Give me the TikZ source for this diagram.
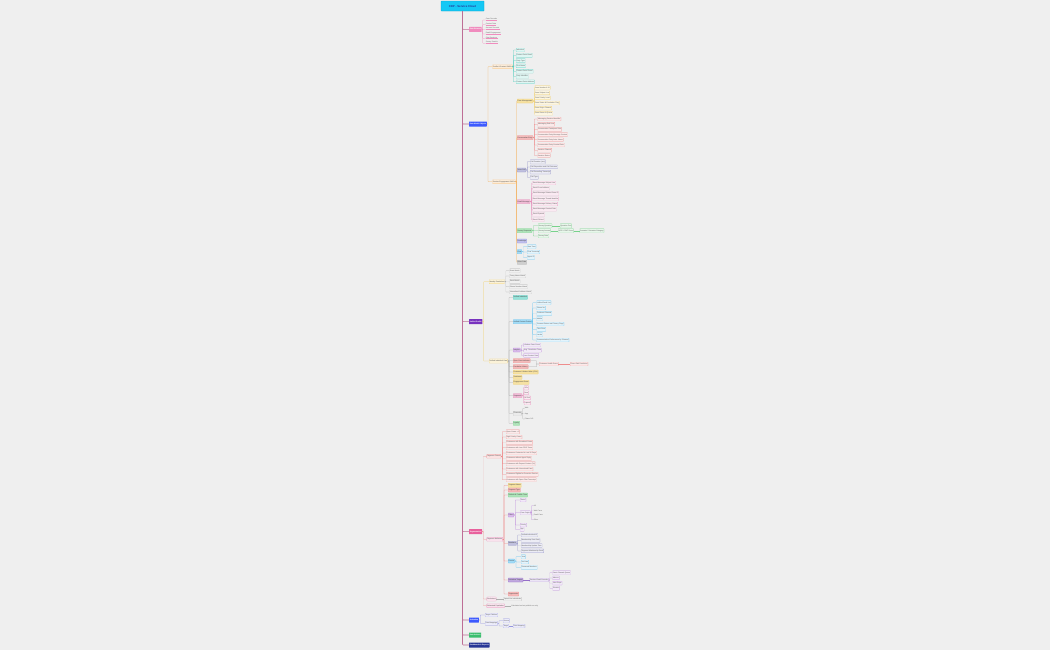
\documentclass[tikz,border=0pt]{standalone}
\usepackage{fontspec}
\setmainfont{Liberation Sans}
\usetikzlibrary{positioning}
\definecolor{bgc}    {RGB}{239,239,239}
\definecolor{rootc}  {RGB}{ 20,200,245}
\definecolor{trunkc} {RGB}{190,110,150}
\definecolor{pinkc}  {RGB}{240,140,190}
\definecolor{bluec}  {RGB}{ 61, 90,254}
\definecolor{purplec}{RGB}{120, 50,190}
\definecolor{rosec}  {RGB}{232, 96,156}
\definecolor{navyc}  {RGB}{ 40, 55,150}
\definecolor{greenc} {RGB}{ 60,190,110}
\definecolor{orangec}{RGB}{244,180,100}
\definecolor{tealc}  {RGB}{ 80,205,190}
\definecolor{yellowc}{RGB}{240,205,100}
\definecolor{redc}   {RGB}{238,140,140}
\definecolor{slatec} {RGB}{150,150,200}
\definecolor{magc}   {RGB}{230,140,185}
\definecolor{mintc}  {RGB}{120,210,140}
\definecolor{lavc}   {RGB}{150,150,225}
\definecolor{skyc}   {RGB}{100,195,240}
\definecolor{grayc}  {RGB}{175,175,175}
\definecolor{violc}  {RGB}{190,140,220}
\definecolor{plumc}  {RGB}{150,110,200}

\begin{document}
\begin{tikzpicture}[
  x=0.1cm, y=-0.1cm,
  root/.style={draw=rootc!80!black, fill=rootc, rounded corners=1pt,
    minimum width=4.3cm, minimum height=1cm,
    font=\fontsize{8}{9}\selectfont\bfseries, text=navyc},
  tab/.style={fill=#1, rounded corners=1pt, minimum height=0.5cm, inner xsep=2pt,
    font=\fontsize{5}{6}\selectfont\bfseries, text=white, anchor=west},
  sect/.style={draw=#1, fill=#1!25!white, rounded corners=1.5pt, line width=0.4pt,
    minimum height=0.42cm, inner xsep=1.5pt, inner ysep=0pt,
    font=\fontsize{5}{6}\selectfont, text=black!70, anchor=west},
  grp/.style={draw=#1, fill=#1!60!white, rounded corners=1pt, line width=0.4pt,
    minimum height=0.4cm, inner xsep=1.5pt, inner ysep=0pt,
    font=\fontsize{5}{6}\selectfont, text=black!75, anchor=west},
  leaf/.style={draw=#1, fill=#1!18!white, rounded corners=0.8pt, line width=0.35pt,
    minimum height=0.38cm, inner xsep=1.3pt, inner ysep=0pt,
    font=\fontsize{5}{6}\selectfont, text=black!65, anchor=west},
  bare/.style={inner sep=0.8pt, font=\fontsize{5}{6}\selectfont, text=black!60, anchor=west},
  trunk/.style={draw=trunkc, line width=1.6pt, rounded corners=2pt},
  link/.style={draw=#1, line width=0.6pt, rounded corners=1pt},
]
\useasboundingbox[fill=bgc] (0,0) rectangle (1050,650);

%% ── Root and tabs ───────────────────────────────────────────────────────────
\node[root] (cdp) at (462.5,6) {CDP - Service Cloud};

\node[tab=pinkc]   (streams) at (469,29.3)  {Data Streams};
\node[tab=bluec]   (dmo)     at (469,124)   {Data Model Objects};
\node[tab=purplec] (profile) at (469,321.7) {Unified Profile};
\node[tab=rosec]   (segment) at (469,531.7) {Segmentation};
\node[tab=bluec]   (activ)   at (469,620)   {Activation};
\node[tab=greenc]  (actions) at (469,635)   {Data Actions};
\node[tab=navyc]   (dash)    at (469,645)   {Dashboards \& Reports};

\foreach \n in {streams,dmo,profile,segment,activ,actions,dash}
  \draw[trunk] (cdp.south) |- (\n.west);

%% ── Data Streams ────────────────────────────────────────────────────────────
\foreach \t [count=\i] in {Case Records, Contact Data, Account Records,
    Email Engagement, Chat Sessions, Survey Results}{
  \node[bare] (ds\i) at (485.5,14.4+4.6*\i) {\t};
  \draw[link=pinkc] (streams.east) -- ++(1,0) |- (ds\i.south west);
  \draw[pinkc, line width=0.4pt] (ds\i.south west) -- (ds\i.south east);
}

%% ── Data Model Objects ──────────────────────────────────────────────────────
\node[sect=orangec] (prof)   at (492.5,66.7)  {Profile \& Contact DMOs};
\node[sect=orangec] (engage) at (492.5,181.7) {Service Engagement DMOs};
\foreach \n in {prof,engage}
  \draw[link=orangec] (dmo.east) -- ++(1.2,0) |- (\n.west);

\foreach \t [count=\i] in {Individual, Contact Point Email, Party Type, First Name,
    Contact Point Phone, Party Identifier, Contact Point Address}{
  \node[leaf=tealc] (pc\i) at (516,44.7+5.3*\i) {\t};
  \draw[link=tealc] (prof.east) -- ++(1.2,0) |- (pc\i.west);
}

\node[grp=yellowc] (case)   at (517,101)   {Case Management};
\node[grp=redc]    (conv)   at (517,137.7) {Conversation Entry};
\node[grp=slatec]  (voice)  at (517,170)   {Voice Call};
\node[grp=magc]    (email)  at (517,201.7) {Email Message};
\node[grp=mintc]   (survey) at (517,230.7) {Survey Response};
\node[grp=lavc]    (know)   at (517,241)   {Knowledge};
\node[grp=skyc]    (chat)   at (517,251.7) {Chat};
\node[grp=grayc]   (other)  at (517,262.3) {Other Data};
\foreach \n in {case,conv,voice,email,survey,know,chat,other}
  \draw[link=orangec] (engage.east) -- ++(1.2,0) |- (\n.west);

\foreach \t [count=\i] in {Case Number \& ID, Case Subject Line, Case Priority Level,
    Case Status \& Escalation Flag, Case Origin Channel, Case Owner \& Queue}{
  \node[leaf=yellowc] (cs\i) at (534.5,82.6+5.1*\i) {\t};
  \draw[link=yellowc] (case.east) -- ++(1.2,0) |- (cs\i.west);
}

\foreach \t [count=\i] in {Messaging Session Identifier, Messaging End User,
    Conversation Participant Role, Conversation Entry Message Content,
    Conversation Entry Actor Name, Conversation Entry Created Date,
    Session Channel, Session Status}{
  \node[leaf=redc] (ce\i) at (537.5,113.8+5.2*\i) {\t};
  \draw[link=redc] (conv.east) -- ++(1.2,0) |- (ce\i.west);
}

\foreach \t [count=\i] in {Call Duration (sec), Call Disposition and Call Outcome,
    Call Recording Transcript, Call Type}{
  \node[leaf=slatec] (vc\i) at (530,156.5+5.2*\i) {\t};
  \draw[link=slatec] (voice.east) -- ++(1.2,0) |- (vc\i.west);
}

\foreach \t [count=\i] in {Email Message Subject Line, Email From Address,
    Email Message Related Case ID, Email Message Thread Identifier,
    Email Message Delivery Status, Email Message Created Date,
    Email Opened, Email Clicked}{
  \node[leaf=magc] (em\i) at (532.5,177.75+5.25*\i) {\t};
  \draw[link=magc] (email.east) -- ++(1.2,0) |- (em\i.west);
}

\node[leaf=mintc] (sq)    at (538,225.7) {Survey Question};
\node[leaf=mintc] (sa)    at (538,230.7) {Survey Answer};
\node[leaf=mintc] (sdate) at (538,236)   {Survey Date};
\foreach \n in {sq,sa,sdate}
  \draw[link=mintc] (survey.east) -- ++(1.2,0) |- (\n.west);
\node[leaf=mintc] (qtext) at (560,225.7) {Question Text};
\node[leaf=mintc] (nps)   at (558,230.7) {NPS / CSAT Score};
\node[leaf=mintc] (cat)   at (579.5,230.7) {Promoter / Detractor Category};
\draw[link=mintc] (sq.east) -- (qtext.west);
\draw[link=mintc] (sa.east) -- (nps.west);
\draw[link=mintc] (nps.east) -- (cat.west);

\foreach \t [count=\i] in {Start Time, Chat Transcript, Agent ID}{
  \node[leaf=skyc] (ch\i) at (527,241.4+5.3*\i) {\t};
  \draw[link=skyc] (chat.east) -- ++(1.2,0) |- (ch\i.west);
}

%% ── Unified Profile ─────────────────────────────────────────────────────────
\node[sect=yellowc] (idres) at (489,281.7) {Identity Resolution};
\node[sect=yellowc] (uview) at (489,361)   {Unified Individual View};
\foreach \n in {idres,uview}
  \draw[link=yellowc] (profile.east) -- ++(1.2,0) |- (\n.west);

\foreach \t [count=\i] in {Exact Match, Fuzzy Name Match, Email Match,
    Phone Number Match, Normalized Address Match}{
  \node[leaf=grayc] (ir\i) at (509.5,265.37+5.33*\i) {\t};
  \draw[link=grayc] (idres.east) -- ++(1.2,0) |- (ir\i.west);
}

\node[grp=tealc]   (uind)     at (513,297.3) {Unified Individual};
\node[grp=skyc]    (ucp)      at (513,321.7) {Unified Contact Points};
\node[grp=violc]   (ins)      at (513,350)   {Insights};
\node[grp=redc]    (opencase) at (513,360.7) {Open Case Indicator};
\node[grp=redc]    (esc)      at (513,366.7) {Escalation History};
\node[grp=yellowc] (clv)      at (513,372)   {Customer Lifetime Value (CLV)};
\node[grp=yellowc] (senti)    at (513,377.3) {Sentiment};
\node[grp=yellowc] (engscore) at (513,382.3) {Engagement Score};
\node[grp=magc]    (segs)     at (513,395.7) {Segments};
\node[sect=grayc]  (chan)     at (513,413.3) {Channels};
\node[grp=mintc]   (loyal)    at (513,423.3) {Loyalty};
\foreach \n in {uind,ucp,ins,opencase,esc,clv,senti,engscore,segs,chan,loyal}
  \draw[link=grayc] (uview.east) -- ++(1.2,0) |- (\n.west);

\foreach \t [count=\i] in {Unified Email List, Phone No., Preferred Channel, Mobile,
    Consent Status and Privacy Flags, Time Zone, Locale,
    Communication Preferences by Channel}{
  \node[leaf=skyc] (uc\i) at (536.5,297.37+5.33*\i) {\t};
  \draw[link=skyc] (ucp.east) -- ++(1.2,0) |- (uc\i.west);
}

\foreach \t [count=\i] in {Lifetime Case Count, Avg. Resolution Time, Last Contact Date}{
  \node[leaf=violc] (in\i) at (523.7,339.8+5.2*\i) {\t};
  \draw[link=violc] (ins.east) -- ++(1.2,0) |- (in\i.west);
}

\node[leaf=redc] (health) at (539,364) {Customer Health Score};
\node[leaf=redc] (churn)  at (570,364) {Churn Risk Prediction};
\foreach \n in {opencase,esc}
  \draw[link=grayc] (\n.east) -| ([xshift=-0.25cm]health.west) -- (health.west);
\draw[link=redc] (health.east) -- (churn.west);

\foreach \t [count=\i] in {VIPs, New, At Risk, Lapsed}{
  \node[leaf=magc] (sg\i) at (524,382.6+5.1*\i) {\t};
  \draw[link=magc] (segs.east) -- ++(1.2,0) |- (sg\i.west);
}

\foreach \t [count=\i] in {Web, App, Phone IVR}{
  \node[bare] (cn\i) at (524.5,403+5.3*\i) {\t};
  \draw[link=grayc] (chan.east) -- ++(1.2,0) |- (cn\i.west);
}

%% ── Segmentation ────────────────────────────────────────────────────────────
\node[sect=redc] (crit) at (486.7,456.3) {Segment Criteria};
\node[sect=magc] (attr) at (486.7,539.3) {Segment Attributes};
\node[sect=magc, rounded corners=2pt] (excl) at (486.7,599) {Exclusions};
\node[sect=magc] (pop)  at (486.7,605.7) {Estimated Population};
\foreach \n in {crit,attr,excl,pop}
  \draw[link=redc] (segment.east) -- ++(1.2,0) |- (\n.west);

\foreach \t [count=\i] in {Open Cases > 2, High Priority Cases,
    Customers with Escalated Cases, Customers with Low CSAT Score,
    Customers Contacted in Last 30 Days, Customers without Agent Reply,
    Customers with Repeat Contact (7d), Customers with Unresolved Case,
    Customers Eligible for Proactive Service, Customers with Open Chat Transcript}{
  \node[leaf=redc] (cr\i) at (506,426.37+5.33*\i) {\t};
  \draw[link=redc] (crit.east) -- ++(1.2,0) |- (cr\i.west);
}

\node[grp=yellowc] (sname) at (508,485.3) {Segment Name};
\node[grp=redc]    (stype) at (508,490)   {Segment Type};
\node[grp=mintc]   (sched) at (508,495)   {Refresh \& Publish Time};
\node[grp=violc]   (filt)  at (508,515)   {Filters};
\node[grp=slatec]  (memb)  at (508,543.3) {Members};
\node[grp=skyc]    (cnt)   at (508,561)   {Counts};
\node[grp=plumc]   (targ)  at (508,580)   {Activation Targets};
\node[grp=redc]    (supp)  at (508,594)   {Suppression};
\foreach \n in {sname,stype,sched,filt,memb,cnt,targ,supp}
  \draw[link=redc] (attr.east) -- ++(1.2,0) |- (\n.west);

\node[leaf=violc] (fstat) at (520,500)   {Status};
\node[leaf=violc] (forig) at (520,512.7) {Case Origin};
\node[leaf=violc] (fprio) at (520,525)   {Priority};
\node[leaf=violc] (fage)  at (520,529.3) {Age};
\foreach \n in {fstat,forig,fprio,fage}
  \draw[link=violc] (filt.east) -- ++(1.2,0) |- (\n.west);
\foreach \t [count=\i] in {All, Web Form, Email Case, Other}{
  \node[bare] (fo\i) at (533.5,501.03+4.67*\i) {\t};
  \draw[link=violc] (forig.east) -- ++(1.2,0) |- (fo\i.west);
}

\foreach \t [count=\i] in {Unified Individual ID, Membership Start Date,
    Membership Update Time, Segment Membership Rank}{
  \node[leaf=slatec] (mb\i) at (521,529.7+5.3*\i) {\t};
  \draw[link=slatec] (memb.east) -- ++(1.2,0) |- (mb\i.west);
}

\foreach \t [count=\i] in {Total, Net New, Removed Members}{
  \node[leaf=skyc] (ct\i) at (521,551.4+5.3*\i) {\t};
  \draw[link=skyc] (cnt.east) -- ++(1.2,0) |- (ct\i.west);
}

\node[leaf=plumc] (console) at (529.5,580) {Service Cloud Console};
\draw[link=plumc] (targ.east) -- (console.west);
\foreach \t [count=\i] in {Omni-Channel Queue, Macros, Next Steps, Einstein}{
  \node[leaf=violc] (sc\i) at (552.5,567.5+5.2*\i) {\t};
  \draw[link=violc] (console.east) -- ++(1.2,0) |- (sc\i.west);
}

\node[leaf=grayc] (optout)  at (503.5,599)   {Opted-Out Individuals};
\node[bare]       (popnote) at (511,605.7)   {Calculated on last publish run only};
\draw[link=grayc] (excl.east) -- (optout.west);
\draw[link=grayc] (pop.east) -- (popnote.west);

%% ── Activation ──────────────────────────────────────────────────────────────
\node[leaf=lavc] (tplat) at (485,615)   {Target Platform};
\node[leaf=lavc] (dmap)  at (485,623.3) {Data Mappings};
\foreach \n in {tplat,dmap}
  \draw[link=lavc] (activ.east) -- ++(1.2,0) |- (\n.west);
\node[leaf=lavc] (src)  at (503,620.7) {Source};
\node[leaf=lavc] (tgt)  at (503,626)   {Target};
\node[leaf=lavc] (fmap) at (513,626)   {Field Mapping};
\foreach \n in {src,tgt}
  \draw[link=lavc] (dmap.east) -- ++(1.2,0) |- (\n.west);
\draw[link=lavc] (tgt.east) -- (fmap.west);

\end{tikzpicture}
\end{document}
